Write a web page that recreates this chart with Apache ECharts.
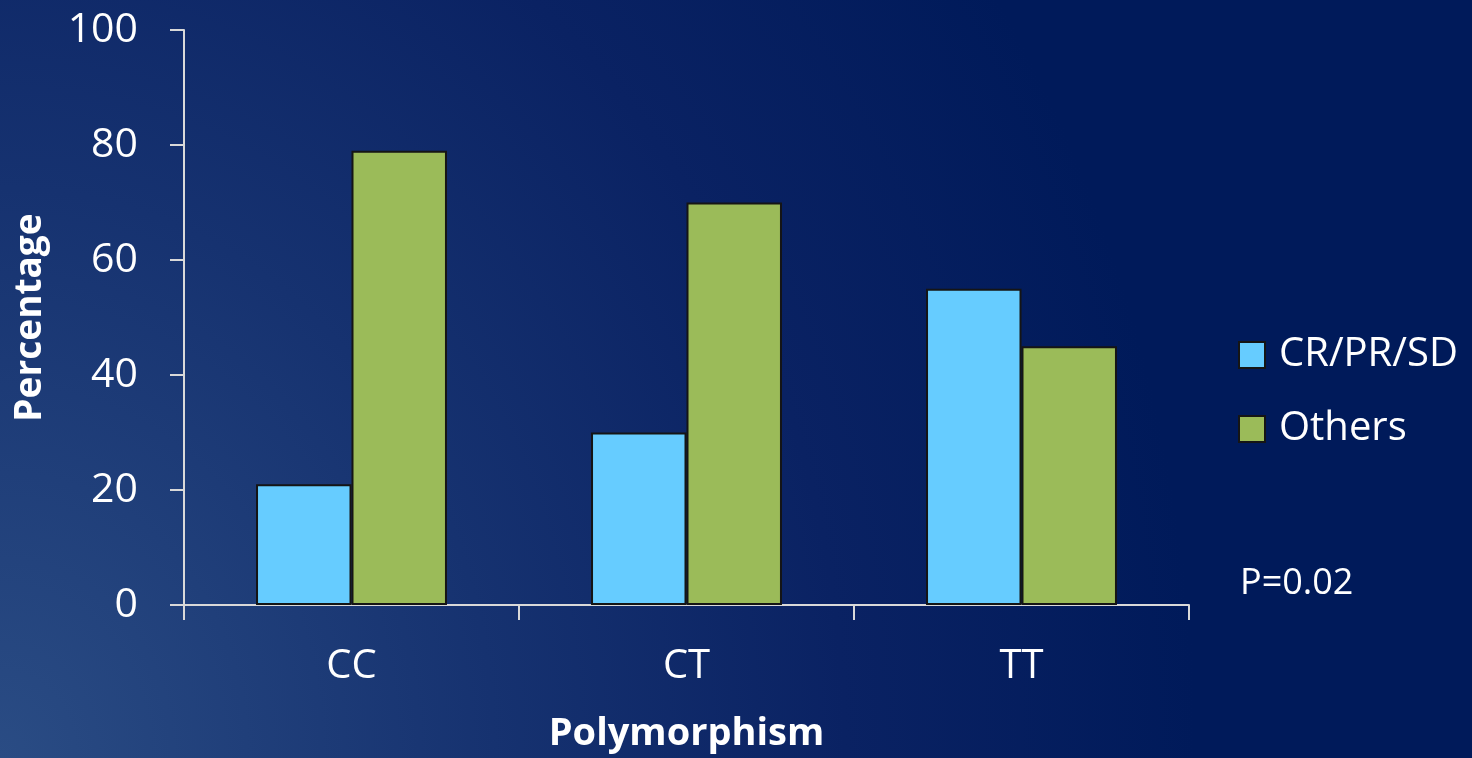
<!DOCTYPE html>
<html>
<head>
<meta charset="utf-8">
<script src="https://cdn.jsdelivr.net/npm/echarts@6/dist/echarts.min.js"></script>
<style>
  html, body { margin: 0; padding: 0; }
  #chart {
    width: 1472px; height: 758px;
    background: radial-gradient(ellipse 1300px 1500px at 0% 100%, #2a4c84 0%, #163270 38%, #0a2263 65%, #001a5a 92%);
  }
</style>
</head>
<body>
<div id="chart"></div>
<script>
// Response by genotype
const categories = ['CC', 'CT', 'TT'];
const responders = [21, 30, 55];   // CR/PR/SD
const others = [79, 70, 45];
const yTicks = { min: 0, max: 100, interval: 20 };
const seriesNames = ['CR/PR/SD', 'Others'];
const pValueText = 'P=0.02';

const FONT = '"Open Sans", "Noto Sans", sans-serif';
const chart = echarts.init(document.getElementById('chart'));

const barStyle = (color) => ({ color: color, borderColor: '#151515', borderWidth: 2 });

chart.setOption({
  backgroundColor: 'transparent',
  animation: false,
  grid: { left: 184, right: 283, top: 30, bottom: 153, containLabel: false, outerBoundsMode: 'none' },
  legend: {
    orient: 'vertical',
    left: 1238,
    top: 335,
    padding: 0,
    itemWidth: 26,
    itemHeight: 26,
    itemGap: 34,
    icon: 'rect',
    textStyle: { color: '#ffffff', fontSize: 40, fontFamily: FONT, lineHeight: 40, padding: [0, 0, 0, 9] },
    data: seriesNames
  },
  xAxis: {
    type: 'category',
    data: categories,
    name: 'Polymorphism',
    nameLocation: 'middle',
    nameGap: 110,
    nameTextStyle: { color: '#ffffff', fontSize: 38, fontWeight: 'bold', fontFamily: FONT },
    axisLine: { lineStyle: { color: '#d9d9d9', width: 2 } },
    axisTick: { show: true, length: 15, lineStyle: { color: '#d9d9d9', width: 2 } },
    axisLabel: { color: '#ffffff', fontSize: 40, fontFamily: FONT, margin: 42 }
  },
  yAxis: {
    type: 'value',
    min: yTicks.min,
    max: yTicks.max,
    interval: yTicks.interval,
    name: 'Percentage',
    nameLocation: 'middle',
    nameRotate: 90,
    nameGap: 135,
    nameTextStyle: { color: '#ffffff', fontSize: 37, fontWeight: 'bold', fontFamily: FONT },
    splitLine: { show: false },
    axisLine: { show: true, lineStyle: { color: '#d9d9d9', width: 2 } },
    axisTick: { show: true, length: 14, lineStyle: { color: '#d9d9d9', width: 2 } },
    axisLabel: { color: '#ffffff', fontSize: 41, fontFamily: FONT, margin: 46 }
  },
  series: [
    {
      name: seriesNames[0],
      type: 'bar',
      data: responders,
      barGap: '0%',
      barCategoryGap: '43%',
      itemStyle: barStyle('#66ccff')
    },
    {
      name: seriesNames[1],
      type: 'bar',
      data: others,
      itemStyle: barStyle('#9bbb59')
    }
  ],
  graphic: [
    {
      type: 'text',
      left: 1240,
      top: 566,
      style: { text: pValueText, fill: '#ffffff', fontSize: 36, fontFamily: FONT }
    }
  ]
});
</script>
</body>
</html>
